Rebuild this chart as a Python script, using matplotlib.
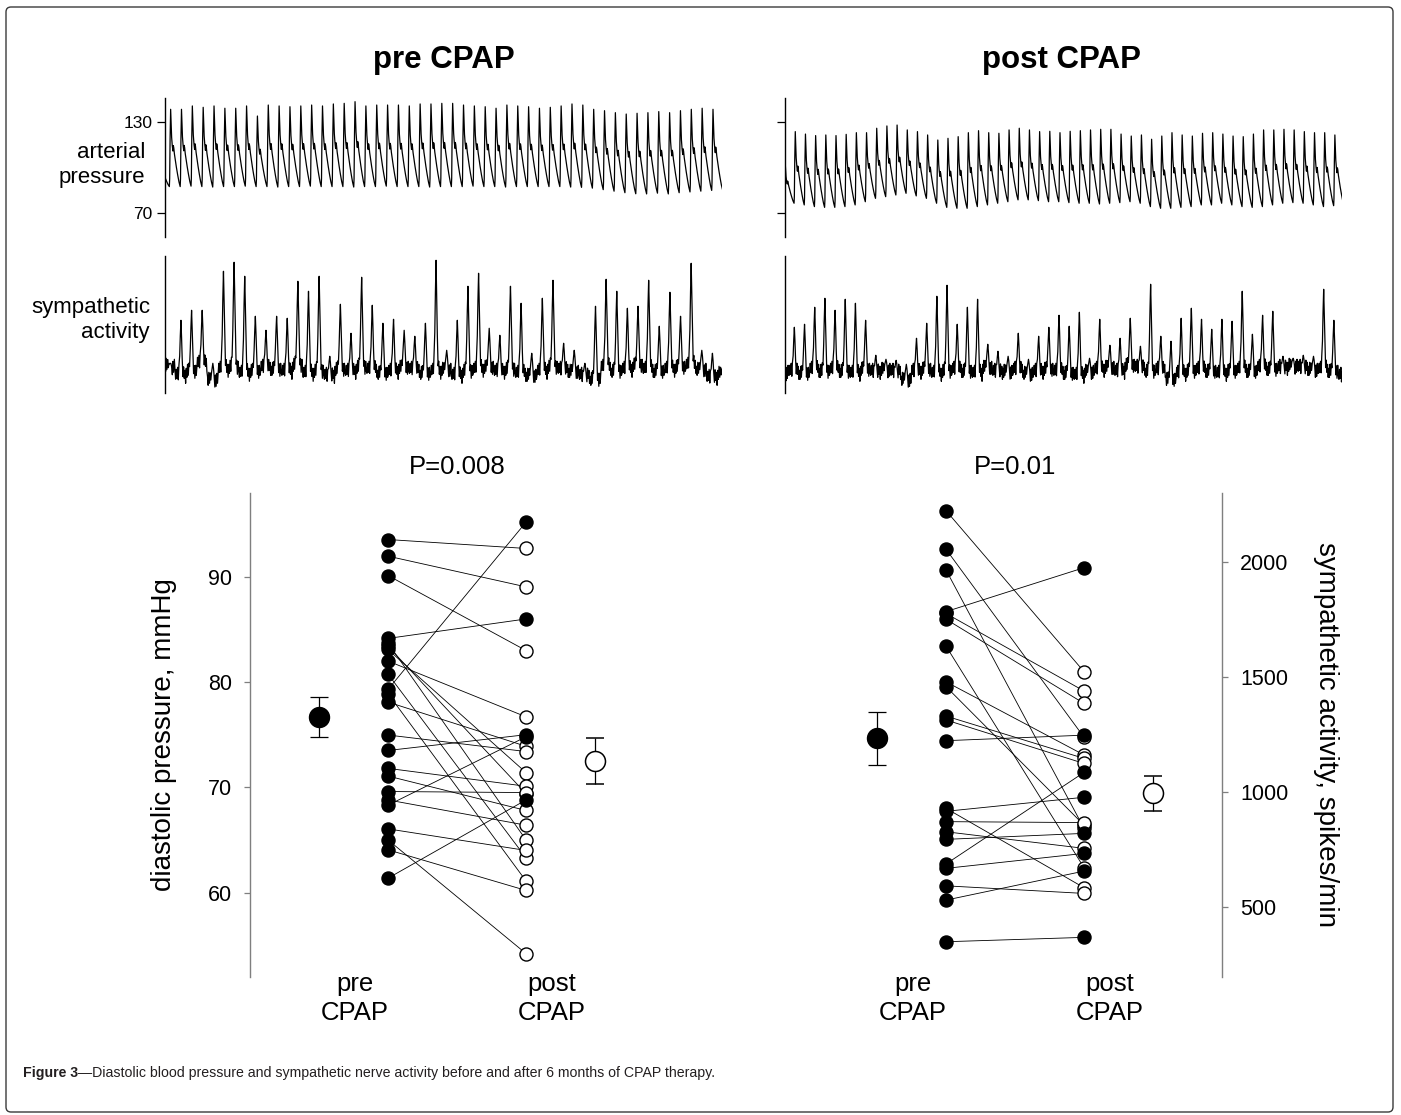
import matplotlib.pyplot as plt
from matplotlib.patches import FancyBboxPatch
from matplotlib.transforms import IdentityTransform, blended_transform_factory

plt.rcParams['font.family'] = ['Liberation Sans', 'DejaVu Sans']

W, H = 1401, 1115

# ---------------- recordings (one value per heart beat / burst) ----------------
# arterial pressure, mmHg: systolic peak of each beat (first = partial beat at the edge)
PRE_BP_PEAKS = [108, 138.1, 138.1, 140.3, 139.4, 140.3, 138.8, 138.8, 140.3, 133.7, 140.9,
                140.3, 139.8, 140.3, 140.9, 140.3, 141.6, 142.0, 143.1, 140.3, 140.9,
                140.9, 140.9, 140.3, 141.6, 141.6, 142.0, 142.0, 140.9, 140.3, 139.8,
                138.8, 140.9, 140.3, 139.8, 138.8, 139.4, 140.3, 141.6, 140.9, 138.1,
                137.2, 135.9, 135.0, 135.5, 135.9, 136.6, 135.9, 137.2, 138.1, 138.8, 138.1]
# diastolic trough between beats (one more than peaks)
PRE_BP_TROUGHS = [88, 87.5, 87.5, 87.8, 87.5, 87.2, 87.5, 87.5, 87.8, 87.5,
                  87.5, 87.2, 87.5, 87.5, 87.8, 87.5, 87.5, 87.5, 87.2, 87.5,
                  87.5, 87.8, 87.5, 87.5, 87.5, 87.2, 87.5, 87.5, 87.5, 87.8,
                  87.5, 87.5, 87.2, 87.5, 87.5, 87.5, 87.5, 87.5, 87.2, 87.0,
                  86.5, 85.5, 84.5, 83.5, 82.8, 82.7, 83.2, 82.7, 83.5, 84.0,
                  84.5, 85.0, 85.5]
POST_BP_PEAKS = [104, 123.5, 121.9, 120.9, 121.3, 120.9, 121.7, 122.8, 122.8, 125.7, 127.2,
                 127.8, 124.6, 123.5, 121.3, 118.0, 119.1, 120.2, 122.8, 124.1, 122.8,
                 122.4, 124.6, 125.7, 124.6, 123.5, 123.7, 122.8, 123.7, 124.1, 124.6,
                 125.0, 125.0, 121.9, 120.6, 121.3, 118.5, 120.6, 122.8, 121.3, 120.6,
                 122.4, 122.8, 121.9, 120.6, 120.2, 121.9, 124.6, 124.6, 125.0, 124.6,
                 123.5, 122.8, 122.8, 121.3]
POST_BP_TROUGHS = [76, 76.6, 75.5, 74.4, 73.9, 73.9, 74.4, 75.5, 77.6, 79.8,
                   80.9, 82.0, 83.1, 81.4, 79.8, 76.6, 73.9, 73.3, 73.3, 74.4,
                   75.5, 76.6, 77.6, 78.8, 78.8, 78.3, 77.6, 77.6, 77.0, 76.6,
                   76.6, 76.1, 76.6, 77.0, 77.6, 76.6, 74.4, 73.3, 73.3, 73.9,
                   74.4, 75.5, 75.5, 76.6, 75.5, 74.4, 73.9, 74.4, 75.5, 76.6,
                   77.0, 76.6, 75.5, 74.4, 75.0, 75.5]

# sympathetic nerve activity (a.u.): burst peak and local baseline per cardiac cycle
PRE_SNA_PEAKS = [30, 73, 83, 83, 30, 122, 131, 117, 77, 63,
                 77, 75, 112, 102, 117, 37, 89, 60, 116, 88,
                 70, 74, 63, 57, 70, 133, 43, 73, 107, 120,
                 65, 58, 107, 90, 40, 95, 113, 50, 43, 30,
                 87, 114, 102, 85, 87, 113, 67, 101, 77, 130,
                 43, 40, 28]
PRE_SNA_BASE = [28, 18, 22, 30, 14, 24, 26, 20, 22, 26,
                24, 22, 28, 20, 22, 18, 24, 22, 26, 24,
                20, 22, 26, 24, 20, 22, 24, 18, 22, 24,
                26, 22, 24, 20, 18, 22, 26, 24, 22, 18,
                14, 26, 22, 24, 28, 24, 22, 24, 26, 28,
                24, 16, 20]
POST_SNA_PEAKS = [24, 66, 69, 86, 95, 83, 94, 90, 73, 38, 34,
                  33, 29, 55, 70, 97, 108, 69, 86, 94, 49,
                  42, 37, 60, 34, 57, 66, 78, 67, 81, 35,
                  74, 48, 55, 75, 47, 109, 57, 52, 75, 85,
                  74, 64, 74, 72, 102, 59, 78, 82, 37, 35,
                  38, 37, 104, 73, 20]
POST_SNA_BASE = [22, 22, 20, 24, 22, 24, 22, 20, 24, 22,
                 24, 22, 14, 22, 24, 20, 22, 24, 22, 20,
                 26, 22, 22, 24, 20, 22, 24, 22, 20, 18,
                 22, 24, 26, 22, 28, 26, 22, 24, 14, 20,
                 22, 24, 22, 20, 22, 24, 22, 26, 24, 26,
                 28, 26, 24, 24, 22, 18]

# ---------------- group data ----------------
DBP_PRE = [93.55, 91.97, 90.13, 84.15, 83.7, 83.4, 83.1, 82.0, 80.76, 79.3, 78.9, 78.1,
           74.97, 73.5, 71.8, 71.07, 69.6, 68.8, 68.3, 66.05, 65.0, 64.06, 61.36]
DBP_POST = [92.7, 89.05, 83.0, 86.0, 65.0, 69.4, 71.4, 76.7, 63.3, 95.2, 61.1, 73.9,
            73.4, 75.0, 70.1, 67.8, 69.5, 66.4, 74.8, 64.0, 54.2, 60.2, 68.8]
DBP_MEAN = [76.7, 72.5]
DBP_SEM = [1.9, 2.2]

SNA_PRE = [2222, 2054, 1964, 1783, 1775, 1750, 1633, 1478, 1457, 1329, 1312,
           1222, 928, 915, 870, 826, 793, 686, 667, 591, 529, 348]
SNA_POST = [1522, 1237, 841, 1974, 1438, 1384, 670, 1160, 855, 1145, 1123,
            1246, 583, 976, 866, 754, 819, 1084, 732, 558, 655, 367]
SNA_MEAN = [1232, 993]
SNA_SEM = [115, 77]

# shape of one pressure pulse (0 = trough, 1 = systolic peak)
P_T = [0.00, 0.03, 0.07, 0.12, 0.16, 0.21, 0.27, 0.33, 0.37, 0.41, 0.47, 0.55, 0.65, 0.77, 0.89, 1.00]
P_SHAPE = [0.00, 0.10, 0.62, 1.00, 0.84, 0.64, 0.53, 0.46, 0.53, 0.50, 0.42, 0.34, 0.25, 0.15, 0.06, 0.00]
P_TOP = 3

# shape of one sympathetic cycle (burst in the middle, recording noise around it)
SNA_T = [0.00, 0.06, 0.12, 0.19, 0.25, 0.31, 0.38, 0.44, 0.50, 0.56, 0.62, 0.69, 0.75, 0.81, 0.88, 0.94]
SNA_SHAPE = [0, 0, 0, 0, 0.04, 0.12, 0.35, 0.72, 1.0, 0.68, 0.35, 0.12, 0.03, 0, 0, 0]
SNA_NOISE = [[3, -6, 7, -4, 6, -3, 2, 0, 0, 1, -3, -11, 4, -7, 6, -4],
             [-4, 6, -3, 8, -7, 4, 0, 0, 0, 0, -5, -9, 7, -3, 5, -8]]


def pressure_trace(peaks, troughs):
    t, v = [], []
    for k, pk in enumerate(peaks):
        for i, (f, s) in enumerate(zip(P_T[:-1], P_SHAPE[:-1])):
            base = troughs[k] if i <= P_TOP else troughs[k + 1]
            t.append(k + f)
            v.append(base + s * (pk - base))
    t.append(len(peaks))
    v.append(troughs[len(peaks)])
    return t, v


def sna_trace(peaks, base):
    t, v = [], []
    for k, (pk, b) in enumerate(zip(peaks, base)):
        noise = SNA_NOISE[k % 2]
        for f, s, j in zip(SNA_T, SNA_SHAPE, noise):
            t.append(k + f)
            v.append(b + s * (pk - b) + j * (1 - s))
    return t, v


fig = plt.figure(figsize=(W / 100, H / 100), dpi=100)


def add_ax(x0, y0, x1, y1):
    return fig.add_axes([x0 / W, 1 - y1 / H, (x1 - x0) / W, (y1 - y0) / H])


def trace_axes(ax, ticks=False, labels=True):
    for s in ['top', 'right', 'bottom']:
        ax.spines[s].set_visible(False)
    ax.spines['left'].set_linewidth(1.0)
    ax.set_xticks([])
    if ticks:
        ax.set_yticks([70, 130])
        ax.tick_params(axis='y', direction='out', length=6, width=0.9, labelsize=12.5, pad=3)
        if not labels:
            ax.set_yticklabels([])
    else:
        ax.set_yticks([])
    ax.patch.set_alpha(0)


# ---------------- traces ----------------
for x0, x1, peaks, troughs, xl, lab in [
        (165, 722, PRE_BP_PEAKS, PRE_BP_TROUGHS, (0.6, 51.95), True),
        (785.4, 1342, POST_BP_PEAKS, POST_BP_TROUGHS, (0.15, 54.82), False)]:
    ax = add_ax(x0, 98.3, x1, 236.7)
    t, v = pressure_trace(peaks, troughs)
    ax.plot(t, v, color='black', lw=0.9)
    ax.set_xlim(*xl)
    ax.set_ylim(54.7, 145.3)
    trace_axes(ax, ticks=True, labels=lab)

for x0, x1, peaks, base, xl in [
        (165, 722, PRE_SNA_PEAKS, PRE_SNA_BASE, (0.0, 52.4)),
        (785.4, 1342, POST_SNA_PEAKS, POST_SNA_BASE, (0.62, 55.3))]:
    ax = add_ax(x0, 256, x1, 393.3)
    t, v = sna_trace(peaks, base)
    ax.plot(t, v, color='black', lw=0.9)
    ax.set_xlim(*xl)
    ax.set_ylim(0, 137.3)
    trace_axes(ax)

fig.text(444 / W, 1 - 60 / H, 'pre CPAP', ha='center', va='center', fontsize=22.5, fontweight='bold')
fig.text(1061 / W, 1 - 60 / H, 'post CPAP', ha='center', va='center', fontsize=22.5, fontweight='bold')
fig.text(145 / W, 1 - 165 / H, 'arterial\npressure', ha='right', va='center',
         multialignment='right', fontsize=16, linespacing=1.22)
fig.text(150 / W, 1 - 320 / H, 'sympathetic\nactivity', ha='right', va='center',
         multialignment='right', fontsize=16, linespacing=1.22)


# ---------------- paired plots ----------------
def paired_panel(ax, pre, post, mean, sem, side, ylim, yticks, ptext):
    for a, b in zip(pre, post):
        ax.plot([1, 3], [a, b], color='black', lw=0.6, zorder=2)
    ax.plot([1] * len(pre), pre, 'o', ms=9.4, mfc='black', mec='black', zorder=3)
    for a, b in zip(pre, post):
        ax.plot(3, b, 'o', ms=9.4, mfc='black' if b > a else 'white', mec='black',
                mew=1.0, zorder=3)
    ax.errorbar([0], [mean[0]], yerr=[sem[0]], fmt='o', ms=14.4, mfc='black', mec='black',
                ecolor='black', elinewidth=0.9, capsize=6.5, capthick=0.9, zorder=3)
    ax.errorbar([4], [mean[1]], yerr=[sem[1]], fmt='o', ms=14.4, mfc='white', mec='black',
                mew=1.1, ecolor='black', elinewidth=0.9, capsize=6.5, capthick=0.9, zorder=3)
    ax.set_xlim(-1, 5)
    ax.set_ylim(*ylim)
    ax.set_yticks(yticks)
    for s in ['top', 'bottom', 'left', 'right']:
        ax.spines[s].set_visible(s == side)
    ax.spines[side].set_color('#7f7f7f')
    ax.spines[side].set_linewidth(1.0)
    ax.set_xticks([])
    if side == 'right':
        ax.yaxis.tick_right()
    ax.tick_params(axis='y', direction='out', length=4, width=0.9, color='#7f7f7f',
                   labelsize=15.5, pad=9)
    tr = blended_transform_factory(ax.transData, ax.transAxes)
    ax.text(0.52, 0.01, 'pre\nCPAP', transform=tr, ha='center', va='top',
            fontsize=18.5, linespacing=1.25)
    ax.text(3.37, 0.01, 'post\nCPAP', transform=tr, ha='center', va='top',
            fontsize=18.5, linespacing=1.25)
    ax.text(0.5, 1 + 25.7 / 484, ptext, transform=ax.transAxes, ha='center', va='center',
            fontsize=18.5)
    ax.patch.set_alpha(0)


ax_l = add_ax(250, 492.7, 664, 976.7)
paired_panel(ax_l, DBP_PRE, DBP_POST, DBP_MEAN, DBP_SEM, 'left', (52.0, 98.0),
             [60, 70, 80, 90], 'P=0.008')
ax_r = add_ax(808, 492.7, 1222, 976.7)
paired_panel(ax_r, SNA_PRE, SNA_POST, SNA_MEAN, SNA_SEM, 'right', (196, 2300),
             [500, 1000, 1500, 2000], 'P=0.01')

fig.text(164 / W, 1 - 735 / H, 'diastolic pressure, mmHg', rotation=90,
         ha='center', va='center', fontsize=20)
fig.text(1326 / W, 1 - 734 / H, 'sympathetic activity, spikes/min', rotation=-90,
         ha='center', va='center', fontsize=20)

# ---------------- caption and frame ----------------
t1 = fig.text(23 / W, 1 - 1073 / H, 'Figure 3', ha='left', va='center', fontsize=10.2,
              fontweight='bold', color='#231f20')
renderer = fig.canvas.get_renderer()
bb = t1.get_window_extent(renderer)
fig.text(bb.x1 / W, 1 - 1073 / H,
         '\u2014Diastolic blood pressure and sympathetic nerve activity before and after '
         '6 months of CPAP therapy.',
         ha='left', va='center', fontsize=10.2, color='#231f20')

frame = FancyBboxPatch((6, 3), 1387, 1105, boxstyle='round,pad=0,rounding_size=5',
                       transform=IdentityTransform(), fill=False, ec='#3a3a3a', lw=1.0)
fig.patches.append(frame)

fig.savefig('out.png', dpi=100)
